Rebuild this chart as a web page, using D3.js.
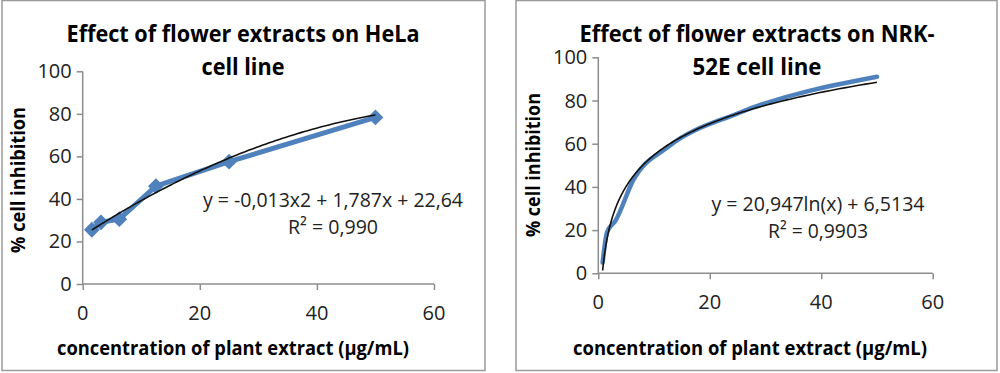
<!DOCTYPE html>
<html>
<head>
<meta charset="utf-8">
<script src="https://cdn.jsdelivr.net/npm/d3@7"></script>
<style>
  body { margin: 0; background: #fff; }
  svg { display: block; font-family: "Open Sans", "Noto Sans", sans-serif; }
</style>
</head>
<body>
<svg width="1000" height="373"></svg>
<script>
// data
const concHeLa = [1.5625, 3.125, 6.25, 12.5, 25, 50];
const inhibHeLa = [25.5, 29, 30.5, 46, 57.5, 78.3];
const concNRK = [0.78, 1.5625, 3.125, 6.25, 12.5, 25, 50];
const inhibNRK = [5, 19, 24.5, 43, 58.5, 74, 91];

// trendline coefficients as printed on the chart
const polyHeLa = [-0.013, 1.787, 22.64]; // a x^2 + b x + c
const logNRK = [20.947, 6.5134]; // a ln(x) + b

const xTicks = [0, 20, 40, 60];
const yTicks = [0, 20, 40, 60, 80, 100];
const xTitle = 'concentration of plant extract (\u03bcg/mL)';
const yTitle = '% cell inhibition';

const panels = [
    {
        box: [2, 0.5, 483, 370],
        x0: 82.7, x1: 434, y0: 284, y1: 71.3,
        title: ['Effect of flower extracts on HeLa', 'cell line'],
        titleX: 243, titleY: [42, 75], titleW: [353, 83],
        xTickY: 320, xTitleX: 233, xTitleY: 355, xTitleW: 352,
        yTitleX: 25, yTitleY: 180, yTitleW: 146,
        eq: ['y = -0,013x2 + 1,787x + 22,64', 'R\u00b2 = 0,990'],
        eqX: 333, eqW: [260, 90], eqY: [207, 234],
        conc: concHeLa, inhib: inhibHeLa,
        markers: true, lineW: 5, curve: d3.curveLinear,
        trend: (x) => polyHeLa[0] * x * x + polyHeLa[1] * x + polyHeLa[2],
        trendFrom: concHeLa[0]
    },
    {
        box: [516, 0.5, 481, 370],
        x0: 598.3, x1: 932.7, y0: 273.3, y1: 57.3,
        title: ['Effect of flower extracts on NRK-', '52E cell line'],
        titleX: 757, titleY: [42, 75], titleW: [355, 129],
        xTickY: 309, xTitleX: 750, xTitleY: 355, xTitleW: 354,
        yTitleX: 540, yTitleY: 165, yTitleW: 144,
        eq: ['y = 20,947ln(x) + 6,5134', 'R\u00b2 = 0,9903'],
        eqX: 818, eqW: [213, 100], eqY: [211, 238],
        conc: concNRK, inhib: inhibNRK,
        markers: false, lineW: 4.5, curve: d3.curveMonotoneX,
        trend: (x) => logNRK[0] * Math.log(x) + logNRK[1],
        trendFrom: concNRK[0]
    }
];

const svg = d3.select('svg');
const blue = '#4f81bd';
const axisGrey = '#8c8c8c';

panels.forEach((p) => {
    const g = svg.append('g');

    g.append('rect')
        .attr('x', p.box[0]).attr('y', p.box[1])
        .attr('width', p.box[2]).attr('height', p.box[3])
        .attr('fill', 'none')
        .attr('stroke', '#9a9a9a')
        .attr('stroke-width', 1.5);

    const x = d3.scaleLinear().domain([0, 60]).range([p.x0, p.x1]);
    const y = d3.scaleLinear().domain([0, 100]).range([p.y0, p.y1]);

    // axes
    const xAxis = g.append('g')
        .attr('transform', `translate(0,${p.y0})`)
        .call(d3.axisBottom(x).tickValues(xTicks).tickSize(6).tickFormat(''));
    const yAxis = g.append('g')
        .attr('transform', `translate(${p.x0},0)`)
        .call(d3.axisLeft(y).tickValues(yTicks).tickSize(6).tickFormat(''));
    [xAxis, yAxis].forEach((a) => {
        a.selectAll('path,line').attr('stroke', axisGrey).attr('stroke-width', 1.5);
        a.select('.domain').attr('d', a === xAxis
            ? `M${p.x0},0H${p.x1}` : `M0,${p.y0}V${p.y1}`);
    });

    g.selectAll('.xlab')
        .data(xTicks)
        .join('text')
        .attr('x', (d) => x(d))
        .attr('y', p.xTickY)
        .attr('text-anchor', 'middle')
        .attr('font-size', 20)
        .attr('fill', '#222')
        .text((d) => d);
    g.selectAll('.ylab')
        .data(yTicks)
        .join('text')
        .attr('x', p.x0 - 11)
        .attr('y', (d) => y(d) + 7)
        .attr('text-anchor', 'end')
        .attr('font-size', 20)
        .attr('fill', '#222')
        .text((d) => d);

    // titles
    p.title.forEach((t, i) => {
        g.append('text')
            .attr('x', p.titleX).attr('y', p.titleY[i])
            .attr('text-anchor', 'middle')
            .attr('font-size', 23).attr('font-weight', 'bold')
            .attr('textLength', p.titleW[i]).attr('lengthAdjust', 'spacingAndGlyphs')
            .text(t);
    });
    g.append('text')
        .attr('x', p.xTitleX).attr('y', p.xTitleY)
        .attr('text-anchor', 'middle')
        .attr('font-size', 19).attr('font-weight', 'bold')
        .attr('textLength', p.xTitleW).attr('lengthAdjust', 'spacingAndGlyphs')
        .text(xTitle);
    g.append('text')
        .attr('transform', `translate(${p.yTitleX},${p.yTitleY}) rotate(-90)`)
        .attr('text-anchor', 'middle')
        .attr('font-size', 19).attr('font-weight', 'bold')
        .attr('textLength', p.yTitleW).attr('lengthAdjust', 'spacingAndGlyphs')
        .text(yTitle);

    // series
    const pts = p.conc.map((c, i) => ({ c: c, v: p.inhib[i] }));
    const line = d3.line().curve(p.curve).x((d) => x(d.c)).y((d) => y(d.v));
    g.append('path')
        .attr('d', line(pts))
        .attr('fill', 'none')
        .attr('stroke', blue)
        .attr('stroke-width', p.lineW)
        .attr('stroke-linejoin', 'round')
        .attr('stroke-linecap', 'round');
    if (p.markers) {
        g.selectAll('.mk')
            .data(pts)
            .join('path')
            .attr('d', d3.symbol().type(d3.symbolSquare).size(125))
            .attr('transform', (d) => `translate(${x(d.c)},${y(d.v)}) rotate(45)`)
            .attr('fill', blue);
    }

    // trendline from the printed equation
    const tx = d3.range(0, 201).map((i) => p.trendFrom * Math.pow(50 / p.trendFrom, i / 200));
    g.append('path')
        .attr('d', d3.line().x((d) => x(d)).y((d) => y(p.trend(d)))(tx))
        .attr('fill', 'none')
        .attr('stroke', '#111')
        .attr('stroke-width', 1.6);

    p.eq.forEach((t, i) => {
        g.append('text')
            .attr('x', p.eqX).attr('y', p.eqY[i])
            .attr('text-anchor', 'middle')
            .attr('font-size', 20)
            .attr('textLength', p.eqW[i]).attr('lengthAdjust', 'spacingAndGlyphs')
            .attr('fill', '#222')
            .text(t);
    });
});
</script>
</body>
</html>
